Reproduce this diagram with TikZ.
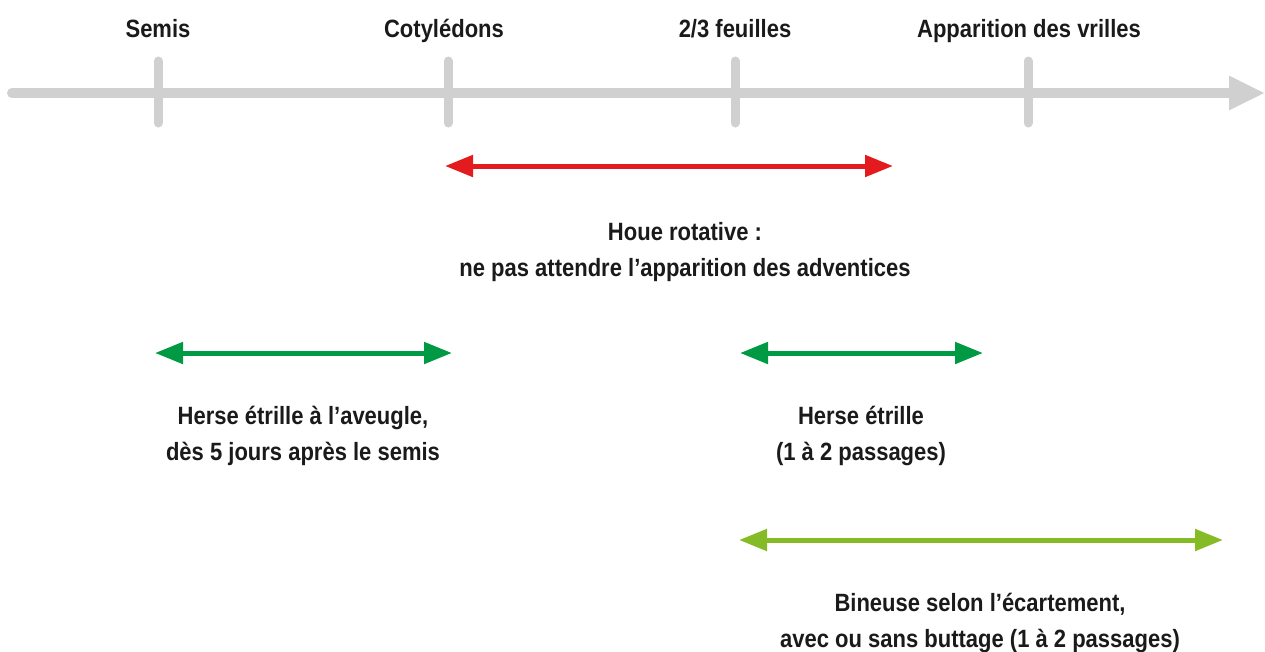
\documentclass[tikz,border=0pt]{standalone}
\usepackage{fontspec}
\setmainfont[FakeStretch=0.88]{Liberation Sans}
\usetikzlibrary{arrows.meta}
\definecolor{axisgray}{HTML}{D0D0D0}
\definecolor{redarr}{HTML}{E31B1E}
\definecolor{greenarr}{HTML}{009A44}
\definecolor{lightgreen}{HTML}{85BC25}
\definecolor{txt}{HTML}{1A1A1A}
\tikzset{
  lbl/.style={font=\fontsize{25}{36.5}\selectfont\bfseries, text=txt, align=center, inner sep=0pt},
  tick/.style={draw=axisgray, line width=9pt, line cap=round},
  dbl/.style={line width=5pt, {Triangle[length=28pt,width=21pt]}-{Triangle[length=28pt,width=21pt]}},
}
\begin{document}
\begin{tikzpicture}[x=1pt,y=-1pt]
\useasboundingbox (0,0) rectangle (1265,651);
% axis
\coordinate (a0) at (12,93);
\coordinate (a1) at (1265,93);
\draw[axisgray, line width=10pt, line cap=round, -{Triangle[length=36pt,width=32pt]}] (a0) -- (a1);
% ticks
\foreach \n/\x in {t1/158,t2/448,t3/735,t4/1028}{
  \coordinate (\n top) at (\x,61);
  \coordinate (\n bot) at (\x,123);
  \draw[tick] (\n top) -- (\n bot);
}
% stage labels
\node[lbl, anchor=base] (s1) at (158,37) {Semis};
\node[lbl, anchor=base] (s2) at (444,37) {Cotylédons};
\node[lbl, anchor=base] (s3) at (735,37) {2/3 feuilles};
\node[lbl, anchor=base] (s4) at (1029,37) {Apparition des vrilles};
% red arrow
\coordinate (r0) at (445,166);
\coordinate (r1) at (893,166);
\draw[dbl, redarr] (r0) -- (r1);
\node[lbl] (houe) at (685,252) {Houe rotative :\\ne pas attendre l’apparition des adventices};
% green arrow 1
\coordinate (g0) at (155,353);
\coordinate (g1) at (452,353);
\draw[dbl, greenarr] (g0) -- (g1);
\node[lbl] (herse1) at (303,436) {Herse étrille à l’aveugle,\\dès 5 jours après le semis};
% green arrow 2
\coordinate (h0) at (740,353);
\coordinate (h1) at (983,353);
\draw[dbl, greenarr] (h0) -- (h1);
\node[lbl] (herse2) at (861,436) {Herse étrille\\(1 à 2 passages)};
% light green arrow
\coordinate (b0) at (739,540);
\coordinate (b1) at (1223,540);
\draw[dbl, lightgreen] (b0) -- (b1);
\node[lbl] (bin) at (980,623) {Bineuse selon l’écartement,\\avec ou sans buttage (1 à 2 passages)};
\end{tikzpicture}
\end{document}
